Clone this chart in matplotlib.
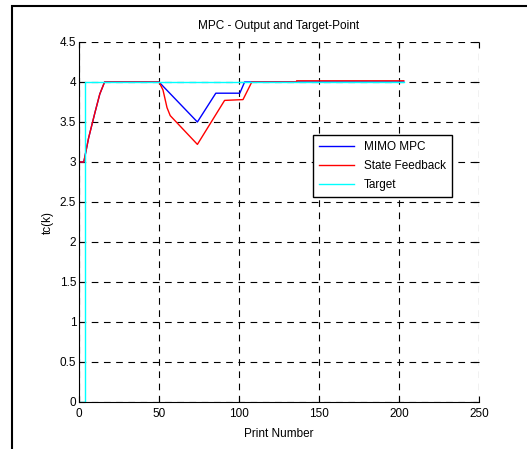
import matplotlib
matplotlib.use('Agg')
import matplotlib.pyplot as plt
import matplotlib.patches as mpat

plt.rcParams['font.family'] = ['Liberation Sans', 'DejaVu Sans']

# Data
mpc_k = [0, 3, 6, 10, 13, 16, 50, 74, 85.5, 100.5, 103.5, 203]
mpc_y = [3, 3, 3.3, 3.62, 3.85, 4, 4, 3.5, 3.86, 3.86, 4, 4]

fb_k = [0, 3, 6, 10, 13, 16, 50, 52.5, 55, 57, 74, 91, 102.5, 108, 136, 136, 203]
fb_y = [3, 3, 3.3, 3.62, 3.85, 4, 4, 3.9, 3.68, 3.58, 3.22, 3.77, 3.78, 4, 4, 4.015, 4.015]

target_k = [0, 4, 4, 203]
target_y = [0, 0, 4, 4]

XTICKS = [0, 50, 100, 150, 200, 250]
YTICKS = [0, 0.5, 1, 1.5, 2, 2.5, 3, 3.5, 4, 4.5]
YTICKLABELS = ['0', '0.5', '1', '1.5', '2', '2.5', '3', '3.5', '4', '4.5']

FS = 8.5

fig = plt.figure(figsize=(5.27, 4.49), dpi=100)
ax = fig.add_axes([79/527, 1-402/449, 400/527, 360/449])

ax.plot(mpc_k, mpc_y, color='#0000ff', linewidth=1, label='MIMO MPC')
ax.plot(fb_k, fb_y, color='#ff0000', linewidth=1, label='State Feedback')
ax.plot(target_k, target_y, color='#00ffff', linewidth=1, label='Target')

ax.set_xlim(0, 250)
ax.set_ylim(0, 4.5)
ax.set_xticks(XTICKS)
ax.set_yticks(YTICKS)
ax.set_xticklabels([str(t) for t in XTICKS])
ax.set_yticklabels(YTICKLABELS)
ax.tick_params(direction='in', top=True, right=True, labelsize=FS, length=4,
               width=0.8)
ax.tick_params(axis='x', pad=4)
ax.tick_params(axis='y', pad=2)

ax.grid(True, color='black', linestyle=(0, (6, 5)), linewidth=0.8)
ax.spines['top'].set_visible(False)
ax.spines['right'].set_visible(False)
ax.spines['left'].set_linewidth(0.8)
ax.spines['bottom'].set_linewidth(0.8)

ax.set_title('MPC - Output and Target-Point', fontsize=FS, pad=9)
ax.set_xlabel('Print Number', fontsize=FS, labelpad=6)
ax.set_ylabel('tc(k)', fontsize=FS, labelpad=4)

leg = ax.legend(loc='upper left', bbox_to_anchor=(313/527, 1-135/449),
                bbox_transform=fig.transFigure, borderaxespad=0,
                fontsize=FS, handlelength=3.0, labelspacing=0.6,
                fancybox=False, framealpha=1, borderpad=0.5)
leg.get_frame().set_edgecolor('black')
leg.get_frame().set_linewidth(1)

# outer frame, cut off at right and bottom like the reference
fig.patches.append(mpat.Rectangle((12/527, -0.1), 1.1, 1.1-6/449,
                                  transform=fig.transFigure, fill=False,
                                  edgecolor='black', linewidth=1.5,
                                  clip_on=False))

fig.savefig('out.png', dpi=100)
